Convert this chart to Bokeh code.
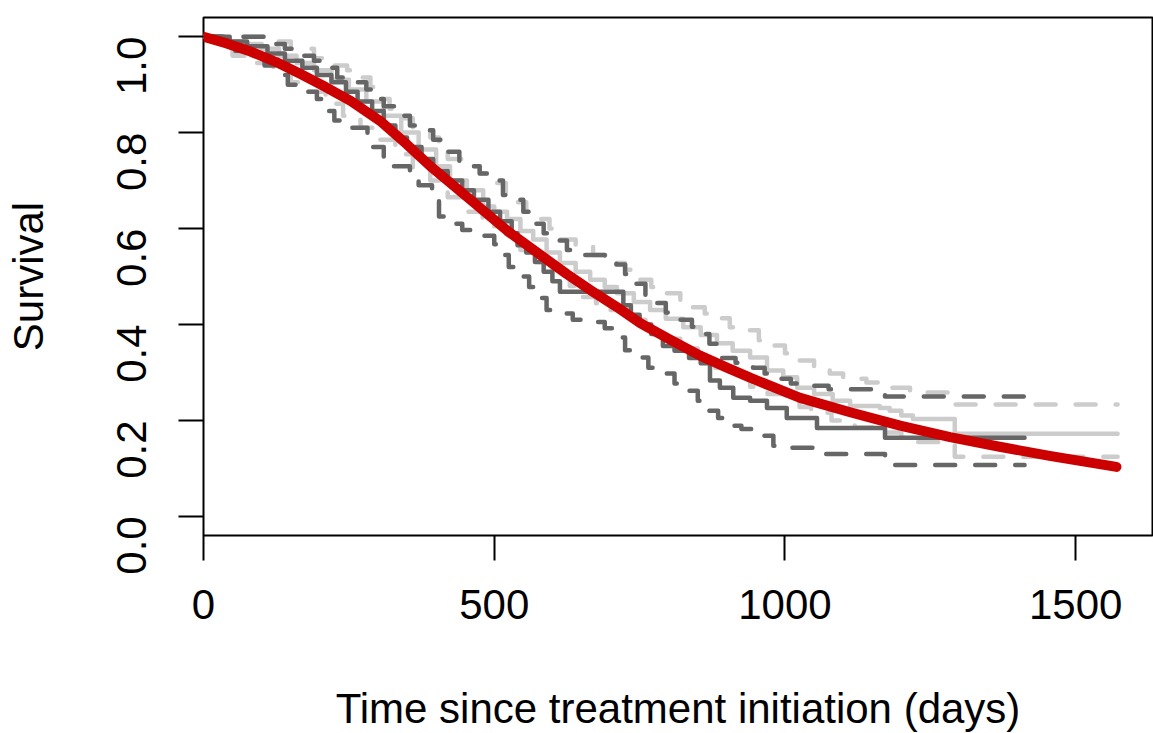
import math
from bokeh.plotting import figure
from bokeh.models import FixedTicker, Range1d
from bokeh.embed import file_html
from bokeh.resources import INLINE

# ---- data ----
x_ticks = [0, 500, 1000, 1500]
y_ticks = [0.0, 0.2, 0.4, 0.6, 0.8, 1.0]
y_tick_labels = ["0.0", "0.2", "0.4", "0.6", "0.8", "1.0"]

# dark grey Kaplan-Meier estimate
dark_km_t = [0, 45, 75, 110, 140, 170, 195, 220, 245, 265, 290, 310, 330, 350, 375, 395, 420, 445, 465, 490,
             510, 530, 540, 555, 570, 585, 600, 613, 722, 735, 750, 770, 790, 810, 835, 855, 871, 888, 911, 940,
             969, 1003, 1055, 1172, 1412]
dark_km_s = [1.0, 0.99, 0.98, 0.965, 0.95, 0.935, 0.92, 0.905, 0.885, 0.865, 0.845, 0.815, 0.79, 0.77, 0.745, 0.72,
             0.70, 0.68, 0.66, 0.635, 0.615, 0.59, 0.565, 0.55, 0.53, 0.51, 0.49, 0.468, 0.44, 0.42, 0.40, 0.38,
             0.355, 0.345, 0.33, 0.319, 0.283, 0.268, 0.247, 0.241, 0.226, 0.205, 0.184, 0.164, 0.164]
dark_hi_t = [0, 110, 140, 165, 190, 210, 230, 255, 280, 295, 310, 335, 355, 380, 395, 410, 440, 455, 475, 500,
             515, 535, 550, 565, 585, 600, 625, 655, 690, 710, 725, 740, 760, 775, 795, 815, 840, 855, 870, 890,
             915, 945, 965, 990, 1010, 1050, 1075, 1172, 1412]
dark_hi_s = [1.0, 0.985, 0.975, 0.96, 0.95, 0.935, 0.915, 0.905, 0.89, 0.87, 0.855, 0.835, 0.815, 0.805, 0.785,
             0.76, 0.74, 0.73, 0.715, 0.70, 0.67, 0.66, 0.635, 0.61, 0.59, 0.575, 0.555, 0.545, 0.535, 0.525,
             0.505, 0.485, 0.46, 0.445, 0.425, 0.41, 0.395, 0.38, 0.36, 0.33, 0.32, 0.31, 0.298, 0.287, 0.277,
             0.272, 0.265, 0.25, 0.25]
dark_lo_t = [0, 30, 55, 80, 105, 125, 145, 165, 195, 210, 225, 245, 282, 290, 310, 320, 355, 370, 393, 405,
             430, 445, 470, 500, 510, 525, 540, 560, 575, 590, 610, 635, 665, 690, 712, 725, 745, 765, 785, 810,
             828, 850, 862, 885, 905, 925, 960, 980, 1010, 1065, 1172, 1412]
dark_lo_s = [1.0, 0.985, 0.97, 0.955, 0.94, 0.92, 0.90, 0.885, 0.87, 0.845, 0.825, 0.81, 0.79, 0.77, 0.75, 0.73,
             0.71, 0.69, 0.66, 0.625, 0.61, 0.597, 0.585, 0.567, 0.545, 0.52, 0.50, 0.478, 0.455, 0.43, 0.423,
             0.41, 0.405, 0.392, 0.373, 0.346, 0.331, 0.31, 0.298, 0.277, 0.262, 0.241, 0.22, 0.205, 0.189,
             0.182, 0.168, 0.147, 0.143, 0.13, 0.107, 0.107]

# light grey Kaplan-Meier estimate
light_km_t = [0, 35, 70, 100, 130, 160, 190, 220, 250, 280, 310, 340, 370, 400, 424, 453, 481, 500, 522, 545,
              567, 590, 613, 640, 665, 690, 711, 740, 768, 795, 825, 855, 883, 910, 940, 969, 997, 1021, 1050,
              1082, 1112, 1163, 1180, 1200, 1220, 1292, 1572]
light_km_s = [1.0, 0.99, 0.985, 0.975, 0.96, 0.945, 0.93, 0.91, 0.89, 0.865, 0.835, 0.80, 0.765, 0.73, 0.70,
              0.68, 0.646, 0.635, 0.62, 0.595, 0.577, 0.55, 0.528, 0.51, 0.493, 0.478, 0.465, 0.447, 0.43, 0.412,
              0.394, 0.378, 0.361, 0.345, 0.331, 0.304, 0.29, 0.268, 0.255, 0.241, 0.23, 0.226, 0.22, 0.21,
              0.203, 0.172, 0.172]
light_hi_t = [0, 110, 150, 190, 223, 247, 265, 287, 300, 320, 345, 360, 390, 405, 420, 450, 475, 500, 520, 540,
              555, 575, 595, 613, 640, 670, 700, 725, 745, 770, 795, 820, 837, 862, 888, 905, 930, 955, 978, 1000,
              1020, 1050, 1077, 1100, 1140, 1180, 1215, 1240, 1292, 1572]
light_hi_s = [1.0, 0.99, 0.975, 0.955, 0.94, 0.93, 0.915, 0.895, 0.87, 0.85, 0.83, 0.81, 0.79, 0.765, 0.745,
              0.73, 0.715, 0.695, 0.67, 0.655, 0.635, 0.62, 0.60, 0.577, 0.562, 0.545, 0.528, 0.514, 0.493, 0.478,
              0.465, 0.451, 0.436, 0.423, 0.413, 0.394, 0.388, 0.367, 0.356, 0.34, 0.325, 0.31, 0.298, 0.287,
              0.279, 0.268, 0.262, 0.258, 0.233, 0.233]
light_lo_t = [0, 30, 50, 85, 120, 150, 180, 210, 240, 270, 300, 330, 360, 390, 420, 450, 480, 495, 520, 545,
              570, 600, 630, 650, 675, 700, 730, 760, 790, 820, 850, 880, 910, 940, 970, 1000, 1025, 1045, 1080,
              1120, 1160, 1200, 1229, 1292, 1572]
light_lo_s = [1.0, 0.975, 0.96, 0.945, 0.93, 0.905, 0.885, 0.86, 0.835, 0.81, 0.785, 0.755, 0.725, 0.70, 0.665,
              0.635, 0.62, 0.605, 0.58, 0.555, 0.53, 0.505, 0.48, 0.457, 0.444, 0.43, 0.41, 0.39, 0.37, 0.35,
              0.33, 0.31, 0.29, 0.27, 0.255, 0.24, 0.228, 0.216, 0.20, 0.185, 0.175, 0.165, 0.155, 0.124, 0.124]

# red fitted (parametric) survival curve
red_t = [0, 40, 81, 125, 167, 210, 253, 304, 350, 390, 459, 527, 584, 625, 665, 710, 751, 800, 854, 900, 940,
         1026, 1112, 1198, 1284, 1369, 1455, 1570]
red_s = [1.0, 0.986, 0.969, 0.947, 0.922, 0.895, 0.866, 0.824, 0.775, 0.730, 0.660, 0.591, 0.541, 0.505, 0.472,
         0.437, 0.403, 0.370, 0.335, 0.310, 0.289, 0.247, 0.217, 0.189, 0.165, 0.145, 0.126, 0.103]

DARK = "#666666"
LIGHT = "#CCCCCC"
RED = "#CC0000"
FONT = "Liberation Sans"

p = figure(frame_width=949, frame_height=518,
           min_border_left=203, min_border_right=1, min_border_top=17, min_border_bottom=198,
           x_range=Range1d(0, 1632), y_range=Range1d(-0.04, 1.04),
           output_backend="svg", toolbar_location=None,
           x_axis_label="Time since treatment initiation (days)", y_axis_label="Survival")

p.background_fill_color = "white"
p.border_fill_color = "white"
p.outline_line_color = "black"
p.outline_line_width = 2
p.grid.visible = False

dash = "20 20"
lw = 4.5

def step(t, s, color, dashed):
    kw = dict(line_color=color, line_width=lw, line_cap="round", line_join="round")
    if dashed:
        kw["line_dash"] = dash
    p.step(t, s, mode="after", **kw)

step(light_hi_t, light_hi_s, LIGHT, True)
step(light_lo_t, light_lo_s, LIGHT, True)
step(light_km_t, light_km_s, LIGHT, False)
step(dark_hi_t, dark_hi_s, DARK, True)
step(dark_lo_t, dark_lo_s, DARK, True)
step(dark_km_t, dark_km_s, DARK, False)

p.line(red_t, red_s, line_color=RED, line_width=10, line_cap="round", line_join="round")

for ax in (p.xaxis[0], p.yaxis[0]):
    ax.axis_line_color = None
    ax.major_tick_in = 0
    ax.major_tick_out = 25
    ax.major_tick_line_width = 2
    ax.major_tick_line_color = "black"
    ax.minor_tick_line_color = None
    ax.major_label_text_font = FONT
    ax.major_label_text_font_size = "42px"
    ax.major_label_text_color = "black"
    ax.axis_label_text_font = FONT
    ax.axis_label_text_font_size = "42px"
    ax.axis_label_text_font_style = "normal"
    ax.axis_label_text_color = "black"

p.xaxis[0].ticker = FixedTicker(ticks=x_ticks)
p.yaxis[0].ticker = FixedTicker(ticks=y_ticks)
p.yaxis[0].major_label_overrides = {v: l for v, l in zip(y_ticks, y_tick_labels)}
p.yaxis[0].major_label_orientation = math.pi / 2
p.xaxis[0].major_label_standoff = 29
p.xaxis[0].axis_label_standoff = 63
p.yaxis[0].major_label_standoff = 47
p.yaxis[0].axis_label_standoff = 48

open("out.html", "w").write(file_html(p, INLINE))
